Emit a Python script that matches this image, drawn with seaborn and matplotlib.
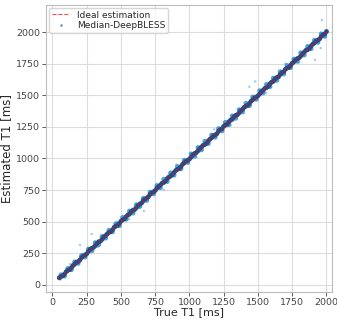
import matplotlib
matplotlib.use("Agg")
import matplotlib.pyplot as plt
from matplotlib.lines import Line2D
import seaborn as sns

# core of the estimation cloud (true T1 vs estimated T1, ms)
true_core = [50, 75, 100, 125, 150, 175, 200, 225, 250, 275, 300, 325, 350, 375, 400,
             425, 450, 475, 500, 525, 550, 575, 600, 625, 650, 675, 700, 725, 750, 775,
             800, 825, 850, 875, 900, 925, 950, 975, 1000, 1025, 1050, 1075, 1100, 1125,
             1150, 1175, 1200, 1225, 1250, 1275, 1300, 1325, 1350, 1375, 1400, 1425, 1450,
             1475, 1500, 1525, 1550, 1575, 1600, 1625, 1650, 1675, 1700, 1725, 1750, 1775,
             1800, 1825, 1850, 1875, 1900, 1925, 1950, 1975, 2000]
est_core = [56, 72, 104, 121, 153, 178, 197, 229, 246, 281, 297, 328, 346, 379, 403,
            421, 455, 472, 504, 522, 553, 579, 596, 628, 647, 679, 697, 729, 746, 778,
            804, 821, 853, 872, 905, 921, 954, 978, 996, 1029, 1047, 1078, 1104, 1121,
            1153, 1179, 1196, 1228, 1254, 1271, 1303, 1329, 1346, 1378, 1405, 1421, 1453,
            1479, 1496, 1528, 1554, 1571, 1604, 1628, 1646, 1679, 1705, 1721, 1753, 1779,
            1796, 1828, 1855, 1871, 1904, 1929, 1946, 1979, 2004]

# second set of core points, between the first
true_mid = [62, 88, 112, 138, 162, 188, 212, 238, 262, 288, 312, 338, 362, 388, 412,
            438, 462, 488, 512, 538, 562, 588, 612, 638, 662, 688, 712, 738, 762, 788,
            812, 838, 862, 888, 912, 938, 962, 988, 1012, 1038, 1062, 1088, 1112, 1138,
            1162, 1188, 1212, 1238, 1262, 1288, 1312, 1338, 1362, 1388, 1412, 1438, 1462,
            1488, 1512, 1538, 1562, 1588, 1612, 1638, 1662, 1688, 1712, 1738, 1762, 1788,
            1812, 1838, 1862, 1888, 1912, 1938, 1962, 1988]
est_mid = [65, 86, 115, 136, 164, 186, 215, 236, 264, 290, 310, 341, 360, 390, 414,
           436, 465, 486, 514, 540, 560, 591, 610, 640, 664, 686, 715, 736, 764, 790,
           810, 841, 860, 890, 914, 936, 965, 986, 1010, 1040, 1060, 1091, 1110, 1140,
           1164, 1186, 1215, 1236, 1264, 1290, 1310, 1341, 1360, 1390, 1414, 1436, 1465,
           1486, 1510, 1540, 1560, 1591, 1610, 1640, 1664, 1686, 1715, 1736, 1764, 1790,
           1810, 1841, 1860, 1890, 1914, 1936, 1965, 1986]

# lighter spread around the core
est_halo = [80, 70, 130, 120, 182, 170, 232, 220, 283, 270, 334, 318, 383, 370, 432,
            420, 484, 468, 534, 520, 584, 568, 634, 620, 684, 668, 734, 720, 784, 768,
            836, 818, 886, 868, 936, 918, 986, 968, 1036, 1018, 1086, 1068, 1136, 1118,
            1186, 1168, 1236, 1218, 1286, 1268, 1336, 1318, 1386, 1368, 1436, 1418, 1486,
            1468, 1536, 1518, 1586, 1568, 1636, 1618, 1686, 1668, 1736, 1718, 1786, 1768,
            1836, 1818, 1886, 1868, 1936, 1918, 1986, 1966]

# scattered points further from the line
true_out = [60, 130, 201, 286, 330, 471, 560, 667, 760, 813, 905, 1050, 1180, 1300,
            1437, 1480, 1560, 1700, 1800, 1916, 1958, 1967, 1990]
est_out = [42, 165, 315, 402, 300, 498, 520, 585, 800, 750, 950, 1010, 1230, 1260,
           1567, 1609, 1520, 1750, 1760, 1780, 1874, 2094, 1960]

ideal_x = [50, 2000]
ideal_y = [50, 2000]

sns.set_style("whitegrid", {"grid.color": "#dcdcdc", "axes.edgecolor": "#bcbcbc",
                            "xtick.bottom": True, "ytick.left": True})

fig, ax = plt.subplots(figsize=(3.37, 3.2), dpi=100)
fig.subplots_adjust(left=0.137, right=0.985, bottom=0.088, top=0.984)

sns.scatterplot(x=true_out, y=est_out, s=3, color="#7cc4ec", edgecolor="none",
                alpha=0.8, ax=ax)
sns.scatterplot(x=true_mid, y=est_halo, s=12, color="#3d96d8", edgecolor="none",
                alpha=0.9, ax=ax)
sns.scatterplot(x=true_core, y=est_core, s=12, color="#264c84", edgecolor="none",
                ax=ax)
sns.scatterplot(x=true_mid, y=est_mid, s=12, color="#264c84", edgecolor="none",
                ax=ax)
sns.lineplot(x=ideal_x, y=ideal_y, color="red", linestyle="--", linewidth=0.8,
             alpha=0.6, ax=ax)

ax.set_xlim(-46, 2040)
ax.set_ylim(-55, 2213)
ax.set_xticks([0, 250, 500, 750, 1000, 1250, 1500, 1750, 2000])
ax.set_yticks([0, 250, 500, 750, 1000, 1250, 1500, 1750, 2000])
ax.tick_params(labelsize=6.8, colors="#444444", length=3, width=0.6, pad=1.5)
ax.set_xlabel("True T1 [ms]", fontsize=8, labelpad=0)
ax.set_ylabel("Estimated T1 [ms]", fontsize=8.5, labelpad=2)
for s in ax.spines.values():
    s.set_linewidth(0.8)

handles = [Line2D([], [], color="red", linestyle="--", linewidth=0.8, alpha=0.7),
           Line2D([], [], color="#3d96d8", marker=".", markersize=1.5, linestyle="none")]
ax.legend(handles, ["Ideal estimation", "Median-DeepBLESS"], loc="upper left",
          fontsize=6.5, frameon=True, borderpad=0.3, labelspacing=0.2,
          handlelength=2.0, borderaxespad=0.3)

plt.savefig("out.png", dpi=100)
